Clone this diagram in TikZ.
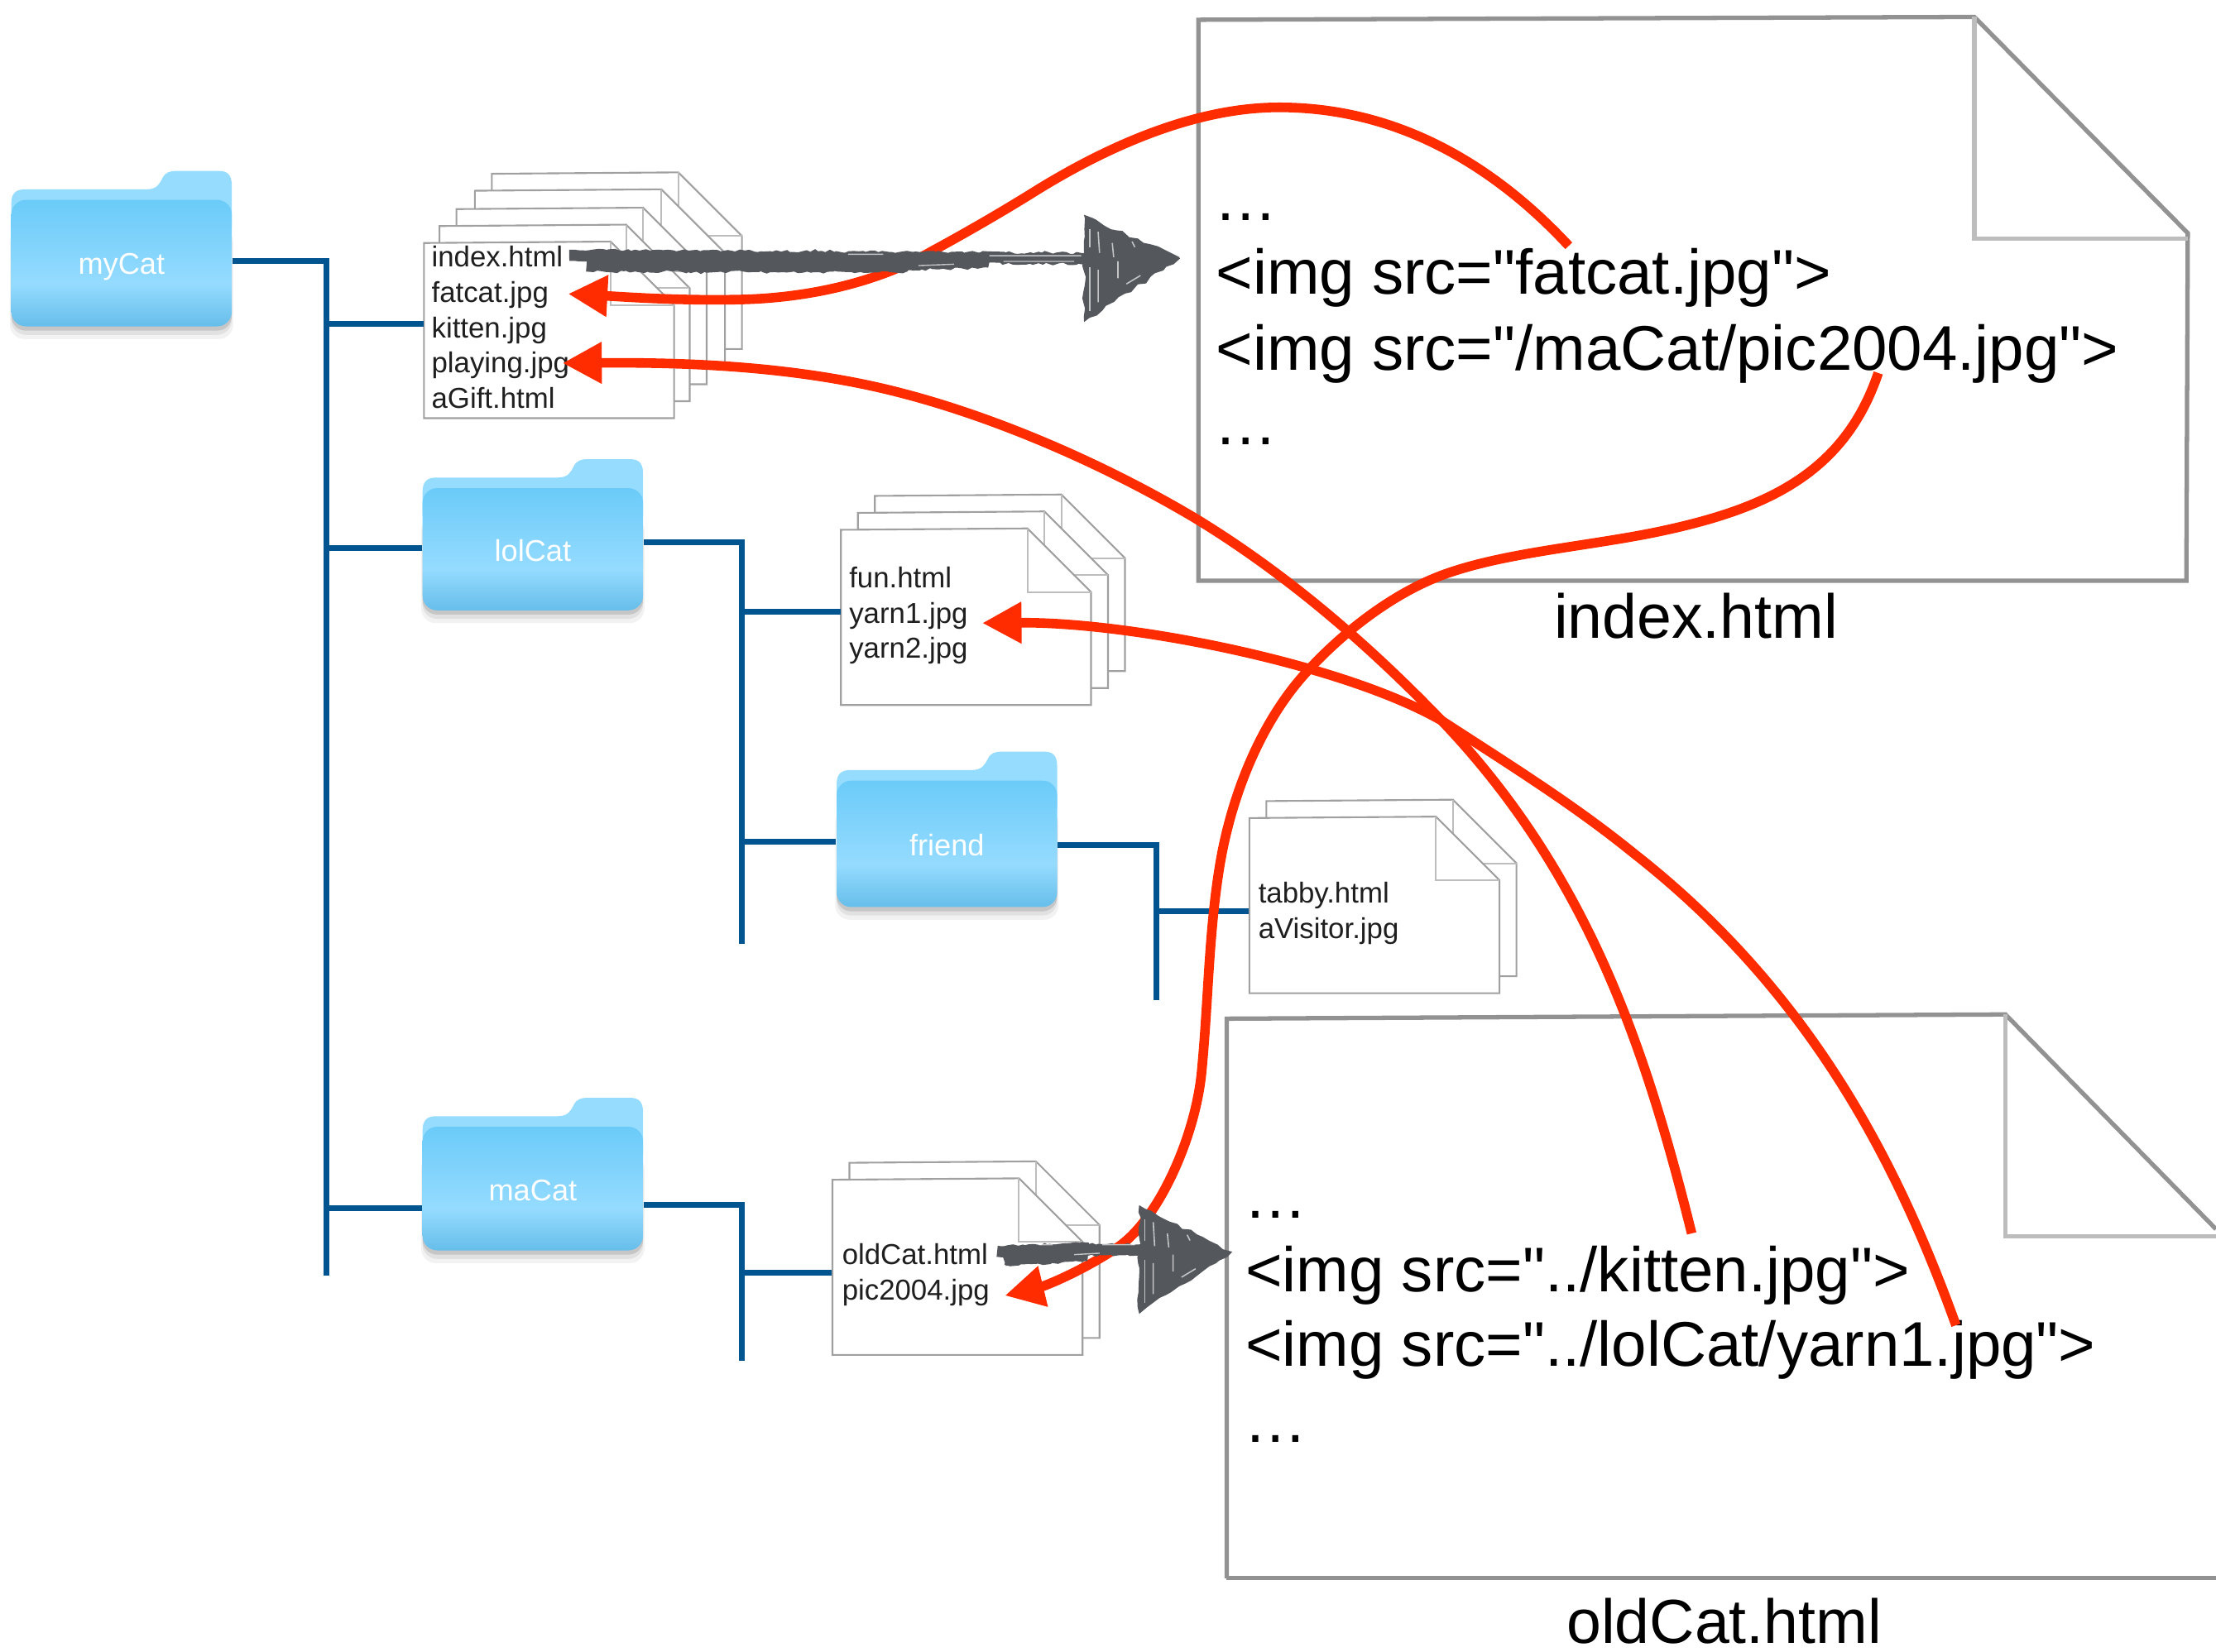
\documentclass[tikz,border=0pt]{standalone}
\usepackage{fontspec}
\setmainfont{Liberation Sans}
\newfontfamily\plainsans{Liberation Sans}
\usetikzlibrary{arrows.meta,decorations.pathmorphing}
\definecolor{treeblue}{HTML}{00548F}
\definecolor{redarrow}{HTML}{FF2C00}
\definecolor{sketch}{HTML}{54575C}
\definecolor{docgrey}{HTML}{929292}
\definecolor{foldgrey}{HTML}{BDBDBD}
\definecolor{pageline}{HTML}{A0A0A0}
\definecolor{folderback}{HTML}{96DCFF}
\definecolor{ftop}{HTML}{6BCBF8}
\definecolor{fmid}{HTML}{95DBFF}
\definecolor{fbot}{HTML}{66BEEA}
\pgfdeclareverticalshading{folderfront}{100bp}{color(0bp)=(fbot);color(25bp)=(fbot);color(42bp)=(fmid);color(75bp)=(ftop);color(100bp)=(ftop)}
\def\uu{0.01708cm}
\tikzset{
  treeline/.style={draw=treeblue,line width=2pt,line cap=butt,line join=miter},
  redcurve/.style={draw=redarrow,line width=3.3pt,-{Triangle[length=13.5pt,width=13.5pt]}},
  smalltext/.style={anchor=base west,inner sep=0pt,font=\plainsans\fontsize{9.9pt}{12pt}\selectfont,text=black!88},
  bigtext/.style={anchor=base west,inner sep=0pt,font=\plainsans\fontsize{21.7pt}{26pt}\selectfont,text=black},
  doctitle/.style={anchor=base,inner sep=0pt,text depth=0pt,font=\plainsans\fontsize{21.4pt}{26pt}\selectfont,text=black},
  folderlabel/.style={anchor=base,inner sep=0pt,minimum width=156*\uu,font=\plainsans\fontsize{10.3pt}{12pt}\selectfont,text=white},
  pagebox/.style={inner sep=0pt,minimum width=177*\uu,minimum height=124*\uu},
  brush/.style={draw=sketch,decorate,decoration={random steps,segment length=1.4pt,amplitude=0.45pt}},
  speck/.style={draw=white,line width=0.45pt,opacity=0.65},
}
% small page with folded corner; #1,#2 = top-left
\newcommand{\smallpage}[2]{%
  \begin{scope}[shift={(#1,#2)}]
    \filldraw[fill=white,draw=pageline,line width=0.6pt,line join=miter] (0,0)--(132,-1)--(177,44)--(177,124)--(0,124)--cycle;
    \draw[draw=foldgrey,line width=0.55pt] (132,-1)--(132,44)--(177,44);
  \end{scope}}
% folder; #1 name, #2 x, #3 y, #4 height, #5 label, #6 label baseline
\newcommand{\folderdraw}[6]{%
  \begin{scope}[shift={(#2,#3)}]
    \fill[black,opacity=0.05,rounded corners=5pt] (-1,40) rectangle (157,#4+9);
    \fill[black,opacity=0.07,rounded corners=5pt] (0,40) rectangle (156,#4+6);
    \fill[black,opacity=0.12,rounded corners=5pt] (0,40) rectangle (156,#4+3);
    \fill[folderback] (0,40)--(0,23) .. controls (0,16) and (3,13) .. (10,13)--(96,13) .. controls (103,13) and (105,9) .. (107,5) .. controls (109,1) and (112,0) .. (117,0)--(147,0) .. controls (153,0) and (156,3) .. (156,10)--(156,40)--cycle;
    \shade[shading=folderfront,rounded corners=5pt] (0,20.5) rectangle (156,#4);
    \node[folderlabel] (#1) at (78,#6) {#5};
  \end{scope}}
% sketchy arrow head; #1,#2 = middle of the base
\newcommand{\sketchhead}[5]{%
  \begin{scope}[shift={(#1,#2)}]
    \fill[sketch,decorate,decoration={random steps,segment length=2.5pt,amplitude=0.7pt}] (0,#3)--(#5,0)--(0,#4)--cycle;
    \draw[speck] (4,#3+10)--(4,-8) (4,6)--(4,#4-8);
    \draw[speck] (10,#3+12)--(11,-4) (10,8)--(10,#4-14);
    \draw[speck] (20,#3+20)--(21,#3+30) (24,2)--(24,14);
    \draw[speck] (34,-12)--(36,-8) (30,18)--(40,12);
  \end{scope}}
\begin{document}
\begin{tikzpicture}[x=0.01708cm,y=-0.01708cm]
\pgfmathsetseed{11}
\useasboundingbox (0,0) rectangle (1568,1168.7);

% ---- stacks of pages
\smallpage{348}{123}
\smallpage{336}{135}
\smallpage{323}{148}
\smallpage{311}{160}
\smallpage{300}{172}
\node[pagebox] (indexPage) at (388.5,234) {};
\smallpage{619}{351}
\smallpage{607}{363}
\smallpage{595}{375}
\node[pagebox] (lolPage) at (683.5,437) {};
\smallpage{896}{567}
\smallpage{884}{579}
\node[pagebox] (friendPage) at (972.5,641) {};
\smallpage{601}{823}
\smallpage{589}{835}
\node[pagebox] (maPage) at (677.5,897) {};

% ---- folders
\folderdraw{myCat}{8}{121}{110}{myCat}{73}
\folderdraw{lolCat}{299}{325}{107}{lolCat}{72}
\folderdraw{friend}{592}{532}{110}{friend}{74}
\folderdraw{maCat}{299}{777}{108}{maCat}{73}

% ---- tree
\coordinate (aTop) at (231,185);
\coordinate (aBot) at (231,903);
\coordinate (aFile) at (231,229);
\coordinate (aLol) at (231,388);
\coordinate (aMa) at (231,855);
\coordinate (bTop) at (525,384);
\coordinate (bBot) at (525,668);
\coordinate (bFile) at (525,433);
\coordinate (bFriend) at (525,596);
\coordinate (cTop) at (818,598);
\coordinate (cBot) at (818,708);
\coordinate (cFile) at (818,645);
\coordinate (dTop) at (525,853);
\coordinate (dBot) at (525,963);
\coordinate (dFile) at (525,901);
\draw[treeline] (myCat.east |- aTop) -- (aTop) -- (aBot);
\draw[treeline] (aFile) -- (indexPage.west |- aFile);
\draw[treeline] (aLol) -- (lolCat.west |- aLol);
\draw[treeline] (aMa) -- (maCat.west |- aMa);
\draw[treeline] (lolCat.east |- bTop) -- (bTop) -- (bBot);
\draw[treeline] (bFile) -- (lolPage.west |- bFile);
\draw[treeline] (bFriend) -- (friend.west |- bFriend);
\draw[treeline] (friend.east |- cTop) -- (cTop) -- (cBot);
\draw[treeline] (cFile) -- (friendPage.west |- cFile);
\draw[treeline] (maCat.east |- dTop) -- (dTop) -- (dBot);
\draw[treeline] (dFile) -- (maPage.west |- dFile);

% ---- file names
\node[smalltext] (fIndex) at (305,189) {index.html};
\node[smalltext] (fFat) at (305,214) {fatcat.jpg};
\node[smalltext] (fKitten) at (305,239) {kitten.jpg};
\node[smalltext] (fPlaying) at (305,264) {playing.jpg};
\node[smalltext] (fGift) at (305,289) {aGift.html};
\node[smalltext] (fFun) at (600.5,416) {fun.html};
\node[smalltext] (fYarnA) at (600.5,441) {yarn1.jpg};
\node[smalltext] (fYarnB) at (600.5,466) {yarn2.jpg};
\node[smalltext] (fTabby) at (890,639) {tabby.html};
\node[smalltext] (fVisitor) at (890,664) {aVisitor.jpg};
\node[smalltext] (fOld) at (595.5,895) {oldCat.html};
\node[smalltext] (fPic) at (595.5,920) {pic2004.jpg};

% ---- big documents
\draw[draw=docgrey,line width=1.5pt,line join=miter] (848,14)--(1397,12)--(1548,165)--(1547,411)--(848,411)--cycle;
\draw[draw=foldgrey,line width=1.5pt] (1397,12)--(1397,169)--(1548,169);
\draw[draw=docgrey,line width=1.5pt,line join=miter] (868,1117)--(868,721)--(1419,718)--(1568,870);
\draw[draw=docgrey,line width=1.5pt] (868,1117)--(1568,1117);
\draw[draw=foldgrey,line width=1.5pt] (1419,718)--(1419,875)--(1568,875);

\node[bigtext] (dotsA) at (859,156) {…};
\node[bigtext] (imgFat) at (860,208) {<img src="fatcat.jpg">};
\node[bigtext] (imgPic) at (860,262) {<img src="/maCat/pic2004.jpg">};
\node[bigtext] (dotsB) at (859,315) {…};
\node[doctitle] (titleIndex) at (1200,452) {index.html};
\node[bigtext] (dotsC) at (880,862) {…};
\node[bigtext] (imgKit) at (881,914) {<img src="../kitten.jpg">};
\node[bigtext] (imgYarn) at (881,967) {<img src="../lolCat/yarn1.jpg">};
\node[bigtext] (dotsD) at (880,1021) {…};
\node[doctitle] (titleOld) at (1220,1163) {oldCat.html};

% ---- red references
\coordinate (rFatS) at (1110,174);
\coordinate (rFatE) at (402,208);
\coordinate (rKitS) at (1197,873);
\coordinate (rKitE) at (398,257);
\coordinate (rYarnS) at (1384,938);
\coordinate (rYarnE) at (695,441);
\coordinate (rPicS) at (1329,264);
\coordinate (rPicE) at (711,917);
\draw[redcurve] (rFatS) .. controls (1058,118) and (990,76) .. (905,76)
  .. controls (845,76) and (783,104) .. (733,135)
  .. controls (709,150) and (683,165) .. (659,178)
  .. controls (619,201) and (569,211) .. (524,212)
  .. controls (480,213) and (440,210) .. (rFatE);
\draw[redcurve] (rKitS) .. controls (1165,745) and (1125,620) .. (1020,510)
  .. controls (968,456) and (910,406) .. (846,367)
  .. controls (784,330) and (707,296) .. (637,278)
  .. controls (560,258) and (478,256.5) .. (rKitE);
\draw[redcurve] (rYarnS) .. controls (1345,830) and (1285,705) .. (1156,604)
  .. controls (1113,569) and (1066,540) .. (1020,510)
  .. controls (950,470) and (800,440) .. (rYarnE);
\draw[redcurve] (rPicS) .. controls (1305,335) and (1250,360) .. (1175,376)
  .. controls (1123,387) and (1062,391) .. (1018,408)
  .. controls (985,421) and (952,446) .. (926,474)
  .. controls (892,510) and (871,564) .. (863,613)
  .. controls (855,662) and (855,711) .. (850,761)
  .. controls (845,806) and (820,862) .. (792,882)
  .. controls (767,899) and (740,910) .. (rPicE);

% ---- sketched arrows
\coordinate (sIndexE) at (772,183);
\coordinate (sIndexM) at (640,183);
\coordinate (sOldE) at (812,884);
\coordinate (sOldM) at (770,884);
\draw[brush,line width=3.8pt] ([xshift=2pt,yshift=0.5pt]fIndex.east) -- (sIndexE);
\draw[brush,line width=6.2pt] ([xshift=8pt,yshift=-2pt]fIndex.east) -- ([yshift=-1.5pt]sIndexM);
\draw[brush,line width=3.5pt] (540,189) -- (700,186);
\draw[speck,line width=0.4pt] (600,180)--(625,180) (650,188)--(675,187) (700,181)--(765,181) (710,185)--(760,185);
\draw[brush,line width=3.8pt] ([xshift=3pt,yshift=1pt]fOld.east) -- (sOldE);
\draw[brush,line width=6.4pt] ([xshift=5pt,yshift=-1pt]fOld.east) -- ([yshift=-1pt]sOldM);
\draw[speck,line width=0.4pt] (735,881)--(745,881) (760,888)--(778,887) (780,881)--(803,881);
\sketchhead{767}{183}{-31}{45}{68}
\sketchhead{806}{886}{-33}{44}{66}
\end{tikzpicture}
\end{document}
